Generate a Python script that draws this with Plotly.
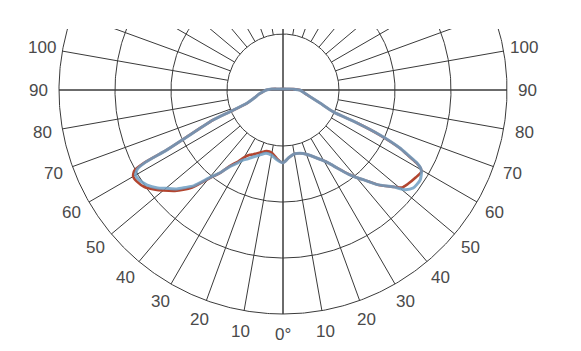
import numpy as np
import plotly.graph_objects as go

# ---- data ----
# signed gamma angle (deg), 0 = straight down, negative = left half
angles = [-180, -150, -120, -110, -100, -95, -90, -85, -80, -75, -70, -67.7, -66.8, -64,
          -62.7, -62.3, -61.5, -60, -58, -55, -52, -50, -47, -45, -43, -40, -37, -35, -32,
          -30, -27, -25, -20, -15, -10, -5, 0, 5, 10, 15, 20, 25, 30, 32, 35, 38, 40, 42,
          45, 48.7, 50.7, 53, 56.7, 59.5, 60.5, 61.4, 62.5, 63.6, 65.1, 66, 66.5, 70.6,
          76, 82, 90, 95, 100, 110, 120, 150, 180]

blue_vals = [2, 2, 4, 5, 11, 20, 30, 36, 44, 52, 68, 102, 136, 191,
             234, 277, 296, 304, 303, 296, 284, 273, 259, 246, 234, 205, 184, 168, 154,
             145, 138, 133, 124, 117, 118, 125, 130, 121, 116, 117, 122, 132, 146, 154, 171, 191, 204, 216,
             239, 262, 281, 291, 293, 287, 282, 273, 252, 233, 191, 145, 98, 70,
             50, 39, 30, 18, 11, 5, 4, 2, 2]

red_vals = [2, 2, 4, 5, 11, 20, 30, 36, 44, 52, 68, 102, 136, 191,
            236, 280, 302, 309, 308, 302, 289, 279, 264, 252, 238, 207, 184, 166, 150,
            139, 130, 127, 119, 113, 114, 123, 130, 121, 116, 117, 122, 132, 146, 154, 171, 191, 204, 216,
            239, 262, 275, 279, 284, 287, 282, 271, 250, 232, 189, 145, 98, 70,
            50, 39, 30, 18, 11, 5, 4, 2, 2]

ring_values = [100, 200, 300, 400]
spoke_angles = list(range(-170, 181, 10))
label_angles = [0, 10, 20, 30, 40, 50, 60, 70, 80, 90, 100]
label_texts = ["0°", "10", "20", "30", "40", "50", "60", "70", "80", "90", "100"]
label_radius = 437


def to_xy(gamma_deg, r):
    g = np.radians(np.asarray(gamma_deg, dtype=float))
    r = np.asarray(r, dtype=float)
    return r * np.sin(g), -r * np.cos(g)


fig = go.Figure()
grid = dict(color="#3a3a3a", width=1)

# rings
t = np.linspace(0, 360, 721)
for rv in ring_values:
    x, y = to_xy(t, np.full_like(t, rv))
    fig.add_trace(go.Scatter(x=x, y=y, mode="lines", line=grid, hoverinfo="skip"))

# spokes
r_in, r_out = ring_values[0], ring_values[-1]
for a in spoke_angles:
    if a % 90 == 0:
        x, y = to_xy([a, a + 180], [r_out, r_out])
    else:
        x, y = to_xy([a, a], [r_in, r_out])
    fig.add_trace(go.Scatter(x=x, y=y, mode="lines", line=grid, hoverinfo="skip"))

# curves
rx, ry = to_xy(angles, red_vals)
fig.add_trace(go.Scatter(x=rx, y=ry, mode="lines",
                         line=dict(color="#b2452f", width=2.6, shape="spline", smoothing=0.6)))
bx, by = to_xy(angles, blue_vals)
fig.add_trace(go.Scatter(x=bx, y=by, mode="lines", opacity=0.85,
                         line=dict(color="#6f9fc4", width=3, shape="spline", smoothing=0.6)))

# labels on both sides
for a, txt in zip(label_angles, label_texts):
    sides = [0] if a == 0 else [-a, a]
    for s in sides:
        lx, ly = to_xy([s], [label_radius])
        fig.add_annotation(x=float(lx[0]), y=float(ly[0]), text=txt, showarrow=False,
                           xanchor="center", yanchor="middle",
                           font=dict(family="Liberation Sans, Arial", size=17, color="#4a4a4a"))

px_unit = 100 / 56.0
cx, cy = 283, 90
top_clip = 29
W, H = 581, 351
fig.update_layout(
    width=W, height=H,
    margin=dict(l=0, r=0, t=top_clip, b=0),
    paper_bgcolor="white", plot_bgcolor="white",
    showlegend=False,
    xaxis=dict(range=[-cx * px_unit, (W - cx) * px_unit], visible=False, fixedrange=True),
    yaxis=dict(range=[-(H - cy) * px_unit, (cy - top_clip) * px_unit], visible=False, fixedrange=True),
)
fig.write_html("out.html")
